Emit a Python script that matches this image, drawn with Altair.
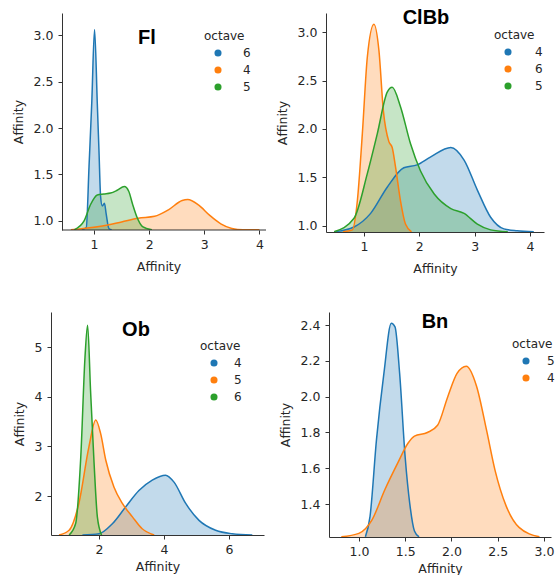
import altair as alt
import pandas as pd

BLUE, ORANGE, GREEN = "#1f77b4", "#ff7f0e", "#2ca02c"
FONT = "DejaVu Sans"
AXC = "#333333"

# ---- Fl ----
fl_oct6_x = [0.78, 0.86, 0.91, 0.96, 1.01, 1.06, 1.09, 1.12, 1.15, 1.19, 1.22, 1.27, 1.32]
fl_oct6_y = [0.905, 0.93, 1.59, 2.28, 3.06, 2.26, 1.76, 1.26, 1.16, 1.19, 1.08, 0.92, 0.905]
fl_oct4_x = [0.58, 1.09, 1.5, 1.8, 2.1, 2.35, 2.6, 2.7, 2.9, 3.1, 3.3, 3.5, 3.7, 4.0]
fl_oct4_y = [0.905, 0.94, 0.99, 1.03, 1.05, 1.12, 1.22, 1.23, 1.17, 1.06, 0.97, 0.92, 0.905, 0.905]
fl_oct5_x = [0.64, 0.82, 0.94, 1.06, 1.18, 1.30, 1.42, 1.55, 1.63, 1.70, 1.78, 1.88, 2.05]
fl_oct5_y = [0.905, 1.0, 1.18, 1.28, 1.29, 1.30, 1.33, 1.37, 1.32, 1.18, 1.04, 0.94, 0.905]

# ---- ClBb ----
clbb_oct4_x = [0.46, 0.82, 1.12, 1.42, 1.72, 1.96, 2.20, 2.57, 2.81, 3.05, 3.29, 3.53, 3.77, 4.07]
clbb_oct4_y = [0.94, 0.99, 1.13, 1.40, 1.60, 1.63, 1.71, 1.81, 1.68, 1.37, 1.09, 0.97, 0.95, 0.94]
clbb_oct6_x = [0.62, 0.79, 0.88, 0.97, 1.06, 1.18, 1.27, 1.35, 1.45, 1.51, 1.57, 1.66, 1.75, 1.86]
clbb_oct6_y = [0.94, 0.96, 1.26, 1.95, 2.74, 3.08, 2.81, 2.19, 1.87, 1.81, 1.61, 1.26, 1.02, 0.94]
clbb_oct5_x = [0.46, 0.82, 1.06, 1.24, 1.42, 1.51, 1.66, 1.84, 2.02, 2.27, 2.57, 2.81, 3.05, 3.29, 3.6]
clbb_oct5_y = [0.94, 1.08, 1.54, 1.95, 2.38, 2.43, 2.23, 1.85, 1.57, 1.33, 1.18, 1.13, 1.02, 0.96, 0.94]

# ---- Ob ----
ob_oct4_x = [1.49, 2.0, 2.41, 2.82, 3.23, 3.64, 4.05, 4.31, 4.67, 5.08, 5.59, 6.10, 6.72]
ob_oct4_y = [1.215, 1.24, 1.44, 1.78, 2.11, 2.32, 2.42, 2.28, 1.85, 1.51, 1.31, 1.24, 1.215]
ob_oct5_x = [0.77, 1.08, 1.38, 1.69, 1.90, 2.05, 2.21, 2.46, 2.72, 3.03, 3.33, 3.7]
ob_oct5_y = [1.215, 1.31, 1.85, 2.99, 3.53, 3.26, 2.72, 2.18, 1.85, 1.58, 1.34, 1.215]
ob_oct6_x = [1.08, 1.28, 1.44, 1.57, 1.65, 1.74, 1.85, 1.95, 2.08]
ob_oct6_y = [1.215, 1.44, 2.79, 4.80, 5.44, 4.13, 2.65, 1.58, 1.215]

# ---- Bn ----
bn_oct5_x = [1.07, 1.12, 1.19, 1.27, 1.35, 1.39, 1.44, 1.50, 1.55, 1.60, 1.65]
bn_oct5_y = [1.217, 1.33, 1.76, 2.13, 2.41, 2.39, 2.13, 1.66, 1.40, 1.25, 1.217]
bn_oct4_x = [0.81, 1.0, 1.14, 1.28, 1.42, 1.53, 1.60, 1.74, 1.85, 1.96, 2.06, 2.16, 2.27, 2.38, 2.47, 2.59, 2.73, 2.95]
bn_oct4_y = [1.217, 1.236, 1.31, 1.48, 1.63, 1.74, 1.78, 1.80, 1.84, 2.0, 2.13, 2.17, 2.06, 1.81, 1.59, 1.39, 1.27, 1.217]


def panel(title, series, xdom, ydom, xticks, yticks, xfmt, yfmt, w, h, tpos, lpos,
          xtp=6, yoff=0, xline=None, loff=24):
    rows = []
    order = []
    for lab, xs, ys in series:
        order.append(lab)
        for x, y in zip(xs, ys):
            rows.append({"octave": lab, "x": x, "y": y})
    df = pd.DataFrame(rows)
    colors = [BLUE, ORANGE, GREEN][: len(order)]
    legend = alt.Legend(
        orient="none", legendX=lpos[0], legendY=lpos[1], title="octave",
        titleFontSize=12, titleFontWeight="normal", titleFont=FONT, titleColor="#262626",
        labelFontSize=12, labelFont=FONT, labelColor="#262626",
        symbolType="circle", symbolSize=50, symbolOpacity=1, symbolStrokeWidth=0,
        symbolOffset=8, labelOffset=loff, rowPadding=5, titlePadding=4, padding=0,
    )
    color = alt.Color("octave:N", scale=alt.Scale(domain=order, range=colors), legend=legend, sort=order)
    ax_common = dict(
        labelFont=FONT, labelFontSize=12.5, labelColor="#262626", titleFont=FONT,
        titleFontSize=12.5, titleFontWeight="normal", titleColor="#262626",
        domainColor=AXC, tickColor=AXC, tickSize=4, grid=False,
    )
    xenc = alt.X("x:Q", title="Affinity",
                 scale=alt.Scale(domain=xdom, nice=False, zero=False),
                 axis=alt.Axis(values=xticks, format=xfmt, labelPadding=4, titlePadding=xtp,
                               domain=xline is None, **ax_common))
    yenc = alt.Y("y:Q", title="Affinity",
                 scale=alt.Scale(domain=ydom, nice=False, zero=False),
                 axis=alt.Axis(values=yticks, format=yfmt, labelPadding=5, titlePadding=8,
                               offset=yoff, **ax_common))
    base = alt.Chart(df)
    area = base.mark_area(interpolate="monotone", fillOpacity=0.27, clip=True).encode(
        x=xenc, y=yenc, y2=alt.datum(ydom[0]), color=color, detail="octave:N")
    line = base.mark_line(interpolate="monotone", strokeWidth=1.5, clip=True).encode(
        x=xenc, y=yenc, color=color, detail="octave:N")
    ttl = alt.Chart(pd.DataFrame({"t": [title]})).mark_text(
        font="Liberation Sans", fontWeight="bold", fontSize=20, color="black"
    ).encode(text="t:N", x=alt.value(tpos[0]), y=alt.value(tpos[1]))
    layers = [area, line, ttl]
    if xline is not None:
        # x-axis baseline starting at the (inset) y axis
        axis_line = alt.Chart(pd.DataFrame({"a": [0]})).mark_rule(color=AXC, strokeWidth=1).encode(
            x=alt.datum(xline[0]), x2=alt.datum(xline[1]), y=alt.datum(ydom[0]))
        layers.append(axis_line)
    return alt.layer(*layers).properties(width=w, height=h)


p1 = panel("Fl",
           [("6", fl_oct6_x, fl_oct6_y), ("4", fl_oct4_x, fl_oct4_y), ("5", fl_oct5_x, fl_oct5_y)],
           [0.22, 4.12], [0.903, 3.237], [1, 2, 3, 4], [1.0, 1.5, 2.0, 2.5, 3.0], "d", ".1f",
           215, 217, (96, 25), (153, 18), xtp=10, yoff=-11, xline=(0.42, 4.12), loff=19)
p2 = panel("ClBb",
           [("4", clbb_oct4_x, clbb_oct4_y), ("6", clbb_oct6_x, clbb_oct6_y), ("5", clbb_oct5_x, clbb_oct5_y)],
           [0.313, 4.255], [0.938, 3.196], [1, 2, 3, 4], [1.0, 1.5, 2.0, 2.5, 3.0], "d", ".1f",
           218, 219, (100, 5), (168, 17), xtp=10, loff=21)
p3 = panel("Ob",
           [("4", ob_oct4_x, ob_oct4_y), ("5", ob_oct5_x, ob_oct5_y), ("6", ob_oct6_x, ob_oct6_y)],
           [0.523, 7.08], [1.215, 5.705], [2, 4, 6], [2, 3, 4, 5], "d", "d",
           213, 223, (85, 18), (149, 29), xtp=5, loff=14)
p4 = panel("Bn",
           [("5", bn_oct5_x, bn_oct5_y), ("4", bn_oct4_x, bn_oct4_y)],
           [0.677, 3.075], [1.216, 2.473], [1.0, 1.5, 2.0, 2.5, 3.0], [1.4, 1.6, 1.8, 2.0, 2.2, 2.4], ".1f", ".1f",
           222, 225, (106, 10), (183, 27), xtp=5, loff=15)

row1 = alt.hconcat(p1, p2, spacing=9).resolve_scale(color="independent")
row2 = alt.hconcat(p3, p4, spacing=15).resolve_scale(color="independent")
chart = alt.concat(row1, row2, columns=1, align="none", spacing=37).resolve_scale(color="independent").properties(
    padding={"left": 12, "top": 8, "right": 0, "bottom": 0}, background="white"
).configure_view(stroke=None)

chart.save("out.html", embed_options={"renderer": "svg", "actions": False})
